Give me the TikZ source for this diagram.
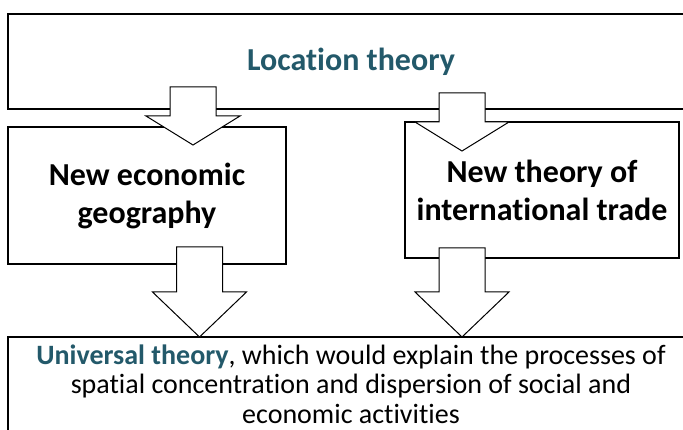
\documentclass[tikz,border=0pt]{standalone}
\usepackage{fontspec}
\setmainfont{Carlito}[Ligatures={NoCommon}]
\usetikzlibrary{calc}
\definecolor{theoryblue}{HTML}{23596A}

% hollow block arrow: tail, tip, head length
\newcommand{\blockarrow}[3]{%
  \filldraw[hollow] ($(#1)+(-23,0)$) -- ($(#2)+(-23,-#3)$) -- ($(#2)+(-47,-#3)$)
    -- (#2) -- ($(#2)+(47,-#3)$) -- ($(#2)+(23,-#3)$) -- ($(#1)+(23,0)$) -- cycle;}

\begin{document}
\begin{tikzpicture}[x=1pt, y=-1pt,
  box/.style={draw, line width=1.5pt, fill=white, align=center, inner sep=0pt},
  head/.style={font=\fontsize{32}{38}\selectfont\bfseries},
  hollow/.style={draw=black, fill=white, line width=1pt, line join=miter}]
\useasboundingbox (0,0) rectangle (683,430);
\clip (0,0) rectangle (683,430);
\node[box, line width=2pt, minimum width=686pt, minimum height=95pt] (loc) at (351,61.5) {};
\node[box, minimum width=278pt, minimum height=137pt] (neg) at (147,195.5) {};
\node[box, minimum width=274pt, minimum height=136pt] (ntt) at (542,190) {};
\node[box, minimum width=686pt, minimum height=110pt] (univ) at (351,392) {};
% arrows
\coordinate (a1) at (193,87);  \coordinate (t1) at (193,145);
\coordinate (a2) at (462,93);  \coordinate (t2) at (462,151);
\coordinate (a3) at (199.5,247); \coordinate (t3) at (199.5,337);
\coordinate (a4) at (462,248); \coordinate (t4) at (462,337);
\blockarrow{a1}{t1}{29}
\blockarrow{a2}{t2}{29}
\blockarrow{a3}{t3}{45}
\blockarrow{a4}{t4}{45}
% texts
\node[head, text=theoryblue] (loct) at (loc) {Location theory};
\node[head, align=center] (negt) at (neg) {New economic\\geography};
\node[head, align=center] (nttt) at (ntt) {New theory of\\international trade};
\node[align=center, anchor=north, font=\fontsize{28}{29.5}\selectfont] (univt) at ($(univ.north)+(0,5)$)
  {{\color{theoryblue}\bfseries Universal theory}, which would explain the processes of\\
   spatial concentration and dispersion of social and\\ economic activities};
\end{tikzpicture}
\end{document}
